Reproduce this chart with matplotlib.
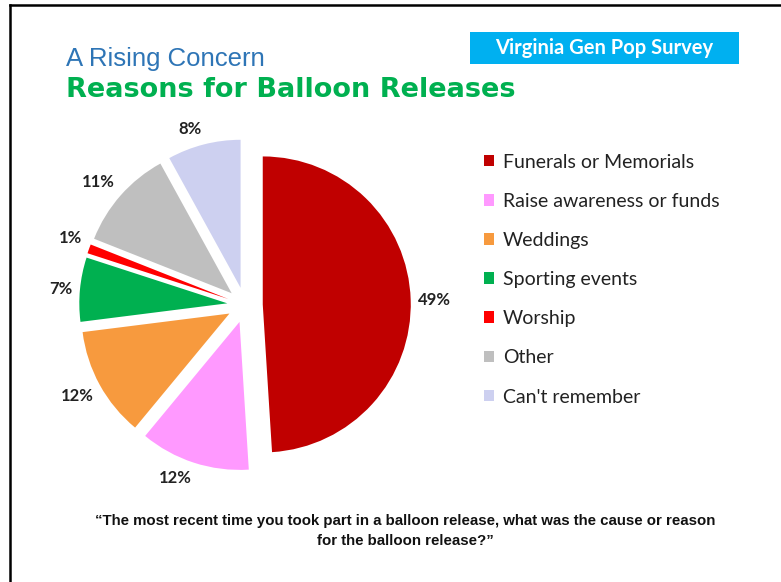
import matplotlib
matplotlib.use('Agg')
import numpy as np
import matplotlib.pyplot as plt
from matplotlib.patches import Rectangle
from matplotlib.lines import Line2D

W, H = 781, 582

reasons = ["Funerals or Memorials", "Raise awareness or funds", "Weddings",
           "Sporting events", "Worship", "Other", "Can't remember"]
shares = [49, 12, 12, 7, 1, 11, 8]
colors = ["#C00000", "#FF99FF", "#F79A3E", "#00B050", "#FF0000", "#BFBFBF", "#CDD0F0"]

title_top = "A Rising Concern"
title_main = "Reasons for Balloon Releases"
badge = "Virginia Gen Pop Survey"
question = ("\u201cThe most recent time you took part in a balloon release, what was the cause or reason\n"
            "for the balloon release?\u201d")

fig = plt.figure(figsize=(W / 100, H / 100), dpi=100)
fig.patch.set_facecolor("white")

def px(x, y):
    # pixel (from top-left) -> figure fraction
    return x / W, 1 - y / H

# pie axes: centre at (245, 305) px, radius 148 px
cx, cy, r = 245, 305, 148
half = 1.5 * r
ax = fig.add_axes([(cx - half) / W, (H - cy - half) / H, 2 * half / W, 2 * half / H])
wedges, _ = ax.pie(shares, colors=colors, startangle=90, counterclock=False,
                   explode=[0.12] * len(shares), radius=1)
ax.set_xlim(-1.5, 1.5)
ax.set_ylim(-1.5, 1.5)
ax.set_aspect("equal")
ax.axis("off")

# outside-end value labels, aligned by the wedge's mid angle
gap = 0.05
for w, v in zip(wedges, shares):
    mid = np.deg2rad((w.theta1 + w.theta2) / 2)
    dx, dy = np.cos(mid), np.sin(mid)
    x = w.center[0] + (w.r + gap) * dx
    y = w.center[1] + (w.r + gap) * dy
    ha = "left" if dx > 0.2 else ("right" if dx < -0.2 else "center")
    va = "bottom" if dy > 0.3 else ("top" if dy < -0.3 else "center")
    ax.text(x, y, f"{v}%", ha=ha, va=va, fontsize=12, fontweight="bold",
            color="#222222", family="Lato")

fig.legend(wedges, reasons, loc="upper left", bbox_to_anchor=px(466, 136),
           frameon=False, handlelength=0.55, handleheight=0.55, handletextpad=0.45,
           labelspacing=1.14, prop=dict(family="Lato", size=14), labelcolor="#222222")

# titles
fig.text(*px(66, 66), title_top, fontsize=18.5, color="#2E75B6", family="Liberation Sans",
         ha="left", va="baseline")
fig.text(*px(66, 97), title_main, fontsize=19.5, fontweight="bold", color="#00B050",
         family="DejaVu Sans", ha="left", va="baseline")

# survey badge
x0, y0 = px(470, 64)
x1, y1 = px(739, 32)
fig.patches.append(Rectangle((x0, y0), x1 - x0, y1 - y0, transform=fig.transFigure,
                             facecolor="#00B0F0", edgecolor="none"))
fig.text((x0 + x1) / 2, (y0 + y1) / 2, badge, fontsize=14.5, fontweight="bold",
         color="white", family="Lato", ha="center", va="center")

# question
fig.text(*px(405, 531), question, fontsize=10.8, fontweight="bold", color="#111111",
         family="Liberation Sans", ha="center", va="center", linespacing=1.5)

# frame lines on left and top
fig.lines.append(Line2D([10 / W, 10 / W], [0, 1 - 5 / H], transform=fig.transFigure,
                        color="black", lw=1.8))
fig.lines.append(Line2D([10 / W, 1], [1 - 5 / H, 1 - 5 / H], transform=fig.transFigure,
                        color="black", lw=1.8))

fig.savefig("out.png", dpi=100)
